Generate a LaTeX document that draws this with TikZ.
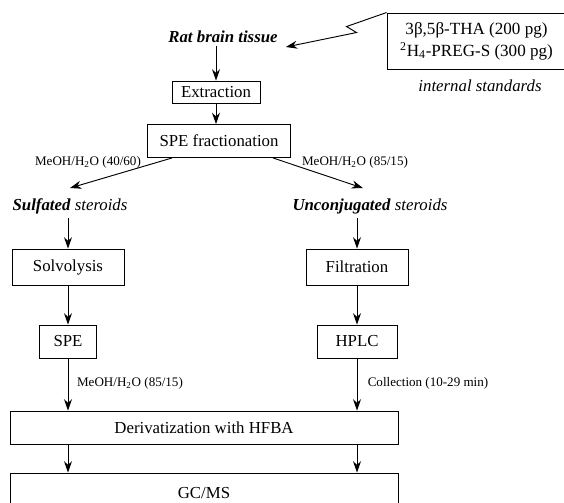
\documentclass[tikz,border=0pt]{standalone}
\usepackage{fontspec}
\setmainfont{Liberation Serif}
\usetikzlibrary{arrows.meta}

\begin{document}
\begin{tikzpicture}[x=0.75pt,y=-0.75pt,
box/.style={draw,line width=0.7pt,inner sep=0,font=\fontsize{12.6}{15}\selectfont},
lab/.style={inner sep=0,font=\fontsize{12.6}{15}\selectfont},
msg/.style={inner sep=0,font=\fontsize{9.8}{12}\selectfont},
link/.style={-{Stealth[length=8.5pt,width=6pt]},line width=0.7pt}]
	\def\px{0.75pt}
	\def\xl{68}
	\def\xr{357}
	\clip (0,0) rectangle (564,503);

	\node[lab] at (223,37) (rat) {\textbf{\textit{Rat brain tissue}}};
	\node[box,minimum width=88*\px,minimum height=22*\px] at (216,92) (ext) {Extraction};
	\node[box,minimum width=143*\px,minimum height=33*\px] at (219,141) (frac) {SPE fractionation};
	\node[lab] at (70,206) (sulf) {\textbf{\textit{Sulfated}} \textit{steroids}};
	\node[lab] at (370,206) (unconj) {\textbf{\textit{Unconjugated}} \textit{steroids}};
	\node[box,minimum width=112*\px,minimum height=36*\px] at (\xl,267) (solv) {Solvolysis};
	\node[box,minimum width=102*\px,minimum height=36*\px] at (\xr,267) (filt) {Filtration};
	\node[box,minimum width=57*\px,minimum height=33*\px] at (\xl,341.5) (spe) {SPE};
	\node[box,minimum width=80*\px,minimum height=33*\px] at (\xr,341.5) (hplc) {HPLC};
	\node[box,minimum width=388*\px,minimum height=33*\px] at (204,427.5) (deriv) {Derivatization with HFBA};
	\node[box,minimum width=388*\px,minimum height=40*\px] at (204,493) (gcms) {GC/MS};

	%internal standards
	\node[box,minimum width=179*\px,minimum height=56*\px,align=center,font=\fontsize{12.8}{16.5}\selectfont] at (476.5,41) (std)
		{3β,5β-THA (200 pg)\\\textsuperscript{2}H\textsubscript{4}-PREG-S (300 pg)};
	\node[lab] at (480,86) (stdlab) {\textit{internal standards}};
	\draw[link] (std.north west) -- ++(-40,14) -- ++(10,6) -- ([xshift=8*\px,yshift=-10*\px]rat.east);

	%main line
	\draw[link,shorten <=2pt] (ext |- rat.south) -- (ext);
	\draw[link] (ext) -- (ext |- frac.north);
	\draw[link] ([xshift=25*\px]frac.south west) -- ([yshift=10*\px]sulf.north);
	\draw[link] ([xshift=-18*\px]frac.south east) -- ([xshift=-7*\px,yshift=10*\px]unconj.north);
	\draw[link,shorten <=3pt] (solv |- sulf.south) -- (solv);
	\draw[link,shorten <=3pt] (filt |- unconj.south) -- (filt);
	\draw[link] (solv) -- (spe);
	\draw[link] (filt) -- (hplc);
	\draw[link] (spe) -- (spe |- deriv.north);
	\draw[link] (hplc) -- (hplc |- deriv.north);
	\foreach \n in {spe,hplc} {
		\draw[link] (\n |- deriv.south) -- (\n |- gcms.north);
	}

	\node[msg] at (88,162) (m1) {MeOH/H\textsubscript{2}O (40/60)};
	\node[msg] at (355,162) (m2) {MeOH/H\textsubscript{2}O (85/15)};
	\node[msg] at (130,383) (m3) {MeOH/H\textsubscript{2}O (85/15)};
	\node[msg] at (428,383) (m4) {Collection (10-29 min)};
\end{tikzpicture}
\end{document}
